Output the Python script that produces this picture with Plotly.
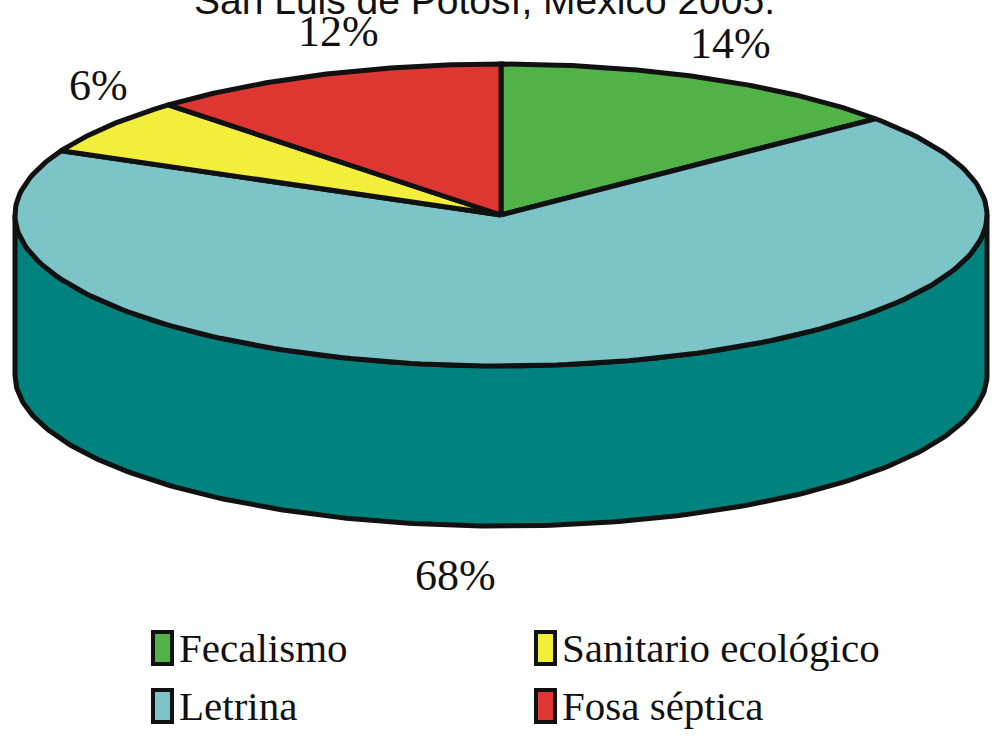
import numpy as np
import plotly.graph_objects as go

# Sanitation type shares (%)
categories = ["Fecalismo", "Letrina", "Sanitario ecológico", "Fosa séptica"]
values = [14, 68, 6, 12]
value_labels = ["14%", "68%", "6%", "12%"]
title_text = "San Luis de Potosí, México 2005."

# Styling
top_colors = ["#50B247", "#7DC4C8", "#F1EE3C", "#DE3631"]
side_colors = ["#3A8A33", "#00837F", "#BDBA22", "#A8221E"]
outline = "#111111"
W, H = 992, 744

# Cylinder geometry (pixel space, y grows downward)
cx, cy, rx, ry, depth = 501, 215, 486, 151, 160

# Percent label anchor points (layout)
label_pos = {"14%": (730, 43), "68%": (455, 575), "6%": (98, 85), "12%": (338, 31)}

# Legend layout: column-major, two rows
legend_cols_x = [153, 536]
legend_rows_y = [648, 706]


def arc(a1, a2, dy=0.0, n=200):
    t = np.radians(np.linspace(a1, a2, n))
    return cx + rx * np.sin(t), cy - ry * np.cos(t) + dy


fig = go.Figure()

total = float(sum(values))
bounds = []
start = 0.0
for v in values:
    end = start + 360.0 * v / total
    bounds.append((start, end))
    start = end

# Visible side wall: the front half of the cylinder (90 deg to 270 deg)
for (a1, a2), col in zip(bounds, side_colors):
    s, e = max(a1, 90.0), min(a2, 270.0)
    if e <= s:
        continue
    xt, yt = arc(s, e)
    xb, yb = arc(e, s, dy=depth)
    xs = np.concatenate([xt, xb, xt[:1]])
    ys = np.concatenate([yt, yb, yt[:1]])
    fig.add_trace(go.Scatter(x=xs, y=ys, mode="lines", fill="toself",
                             fillcolor=col, line=dict(color=outline, width=5),
                             hoverinfo="skip", showlegend=False))

# Top faces of the slices
for (a1, a2), col, name in zip(bounds, top_colors, categories):
    xa, ya = arc(a1, a2)
    xs = np.concatenate([[cx], xa, [cx]])
    ys = np.concatenate([[cy], ya, [cy]])
    fig.add_trace(go.Scatter(x=xs, y=ys, mode="lines", fill="toself",
                             fillcolor=col, line=dict(color=outline, width=5),
                             name=name, hoverinfo="name", showlegend=False))

annotations = []
for lab in value_labels:
    x, y = label_pos[lab]
    annotations.append(dict(x=x, y=y, xref="x", yref="y", text=lab,
                            showarrow=False, xanchor="center", yanchor="middle",
                            font=dict(family="Liberation Serif", size=44, color="#111111")))

# Title sits partly above the page edge
annotations.append(dict(x=484, y=24, xref="x", yref="y", text=title_text,
                        showarrow=False, xanchor="center", yanchor="bottom",
                        font=dict(family="Liberation Sans", size=39, color="#111111")))

shapes = []
for i, (name, col) in enumerate(zip(categories, top_colors)):
    c, r = divmod(i, 2)
    x0 = legend_cols_x[c]
    yc = legend_rows_y[r]
    shapes.append(dict(type="rect", xref="x", yref="y", x0=x0, x1=x0 + 19,
                       y0=yc - 16, y1=yc + 16, fillcolor=col,
                       line=dict(color=outline, width=4)))
    annotations.append(dict(x=x0 + 24, y=yc, xref="x", yref="y", text=name,
                            showarrow=False, xanchor="left", yanchor="middle",
                            font=dict(family="Liberation Serif", size=41, color="#111111")))

fig.update_layout(
    width=W, height=H,
    margin=dict(l=0, r=0, t=0, b=0),
    paper_bgcolor="white", plot_bgcolor="white",
    xaxis=dict(range=[0, W], visible=False, fixedrange=True),
    yaxis=dict(range=[H, 0], visible=False, fixedrange=True),
    annotations=annotations, shapes=shapes, showlegend=False,
)

fig.write_html("out.html")
